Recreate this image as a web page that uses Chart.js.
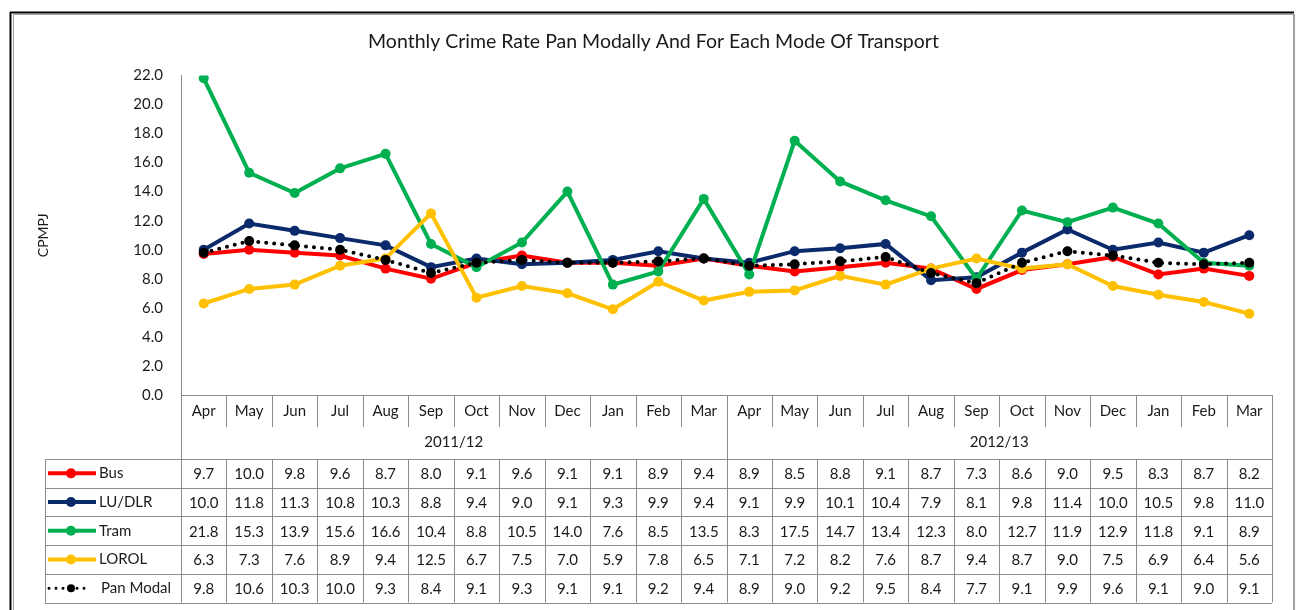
<!DOCTYPE html>
<html>
<head>
<meta charset="utf-8">
<script src="https://cdn.jsdelivr.net/npm/chart.js@4.4.1/dist/chart.umd.min.js"></script>
<style>
  body { margin: 0; background: #fff; }
  canvas { display: block; }
</style>
</head>
<body>
<canvas id="crimeChart" width="1296" height="610"></canvas>
<script>
const months = ['Apr','May','Jun','Jul','Aug','Sep','Oct','Nov','Dec','Jan','Feb','Mar',
                'Apr','May','Jun','Jul','Aug','Sep','Oct','Nov','Dec','Jan','Feb','Mar'];
const years = ['2011/12', '2012/13'];
const bus      = [9.7,10.0,9.8,9.6,8.7,8.0,9.1,9.6,9.1,9.1,8.9,9.4, 8.9,8.5,8.8,9.1,8.7,7.3,8.6,9.0,9.5,8.3,8.7,8.2];
const luDlr    = [10.0,11.8,11.3,10.8,10.3,8.8,9.4,9.0,9.1,9.3,9.9,9.4, 9.1,9.9,10.1,10.4,7.9,8.1,9.8,11.4,10.0,10.5,9.8,11.0];
const tram     = [21.8,15.3,13.9,15.6,16.6,10.4,8.8,10.5,14.0,7.6,8.5,13.5, 8.3,17.5,14.7,13.4,12.3,8.0,12.7,11.9,12.9,11.8,9.1,8.9];
const lorol    = [6.3,7.3,7.6,8.9,9.4,12.5,6.7,7.5,7.0,5.9,7.8,6.5, 7.1,7.2,8.2,7.6,8.7,9.4,8.7,9.0,7.5,6.9,6.4,5.6];
const panModal = [9.8,10.6,10.3,10.0,9.3,8.4,9.1,9.3,9.1,9.1,9.2,9.4, 8.9,9.0,9.2,9.5,8.4,7.7,9.1,9.9,9.6,9.1,9.0,9.1];
const yMin = 0, yMax = 22, yStep = 2;

const FONT = 'Lato, "Open Sans", sans-serif';
const TEXT = '#1a1a1a';
const GRID = '#8c8c8c';

const series = [
  { label: 'Bus',       data: bus,      color: '#ff0000', dotted: false },
  { label: 'LU/DLR',    data: luDlr,    color: '#0b2a6b', dotted: false },
  { label: 'Tram',      data: tram,     color: '#00b050', dotted: false },
  { label: 'LOROL',     data: lorol,    color: '#ffc000', dotted: false },
  { label: 'Pan Modal', data: panModal, color: '#000000', dotted: true }
];

function line(ctx, x1, y1, x2, y2) {
  ctx.beginPath();
  ctx.moveTo(x1, y1);
  ctx.lineTo(x2, y2);
  ctx.stroke();
}
const px = v => Math.round(v) + 0.5;

// outer frame like the Excel screenshot
const framePlugin = {
  id: 'frame',
  afterDraw(chart) {
    const ctx = chart.ctx;
    ctx.save();
    ctx.strokeStyle = '#000';
    ctx.lineWidth = 2;
    line(ctx, 10, 12.5, 1294, 12.5);
    line(ctx, 10.5, 12, 10.5, 610);
    ctx.strokeStyle = '#a0a0a0';
    ctx.lineWidth = 1;
    line(ctx, 13.5, 14.5, 1293, 14.5);
    line(ctx, 13.5, 14.5, 13.5, 610);
    ctx.lineWidth = 2;
    line(ctx, 1294, 14, 1294, 610);
    ctx.restore();
  }
};

// data table under the plot, aligned with the category scale
const tablePlugin = {
  id: 'dataTable',
  afterDraw(chart) {
    const ctx = chart.ctx;
    const xs = chart.scales.x;
    const area = chart.chartArea;
    const n = months.length;
    const w = (area.right - area.left) / n;
    const top = area.bottom;
    const monthBottom = top + 32;
    const dataTop = top + 64;
    const rowH = 28.7;
    const dataBottom = dataTop + rowH * series.length;
    const keyLeft = 45;

    ctx.save();
    ctx.strokeStyle = GRID;
    ctx.lineWidth = 1;

    // month row separators
    for (let i = 0; i <= n; i++) {
      const x = px(area.left + i * w);
      if (i === 0 || i === n || i === 12) {
        line(ctx, x, top, x, dataBottom);
      } else {
        line(ctx, x, top, x, monthBottom);
        line(ctx, x, dataTop, x, dataBottom);
      }
    }
    // horizontal lines
    line(ctx, area.left, px(top), area.right, px(top));
    for (let r = 0; r <= series.length; r++) {
      const y = px(dataTop + r * rowH);
      line(ctx, keyLeft, y, area.right, y);
    }
    line(ctx, px(keyLeft), px(dataTop), px(keyLeft), px(dataBottom));

    ctx.fillStyle = TEXT;
    ctx.font = '15px ' + FONT;
    ctx.textAlign = 'center';
    ctx.textBaseline = 'middle';
    months.forEach((m, i) => ctx.fillText(m, xs.getPixelForValue(i), top + 16));
    years.forEach((yLabel, k) => {
      const cx = area.left + (k * 12 + 6) * w;
      ctx.fillText(yLabel, cx, monthBottom + 15);
    });

    series.forEach((s, r) => {
      const cy = dataTop + r * rowH + rowH / 2;
      s.data.forEach((v, i) => ctx.fillText(v.toFixed(1), xs.getPixelForValue(i), cy + 1));

      // legend key
      ctx.save();
      ctx.strokeStyle = s.color;
      ctx.fillStyle = s.color;
      ctx.lineWidth = s.dotted ? 3 : 4;
      if (s.dotted) {
        ctx.lineCap = 'round';
        ctx.setLineDash([0, 7]);
        line(ctx, 49, cy, 91, cy);
        ctx.setLineDash([]);
      } else {
        line(ctx, 48, cy, 96, cy);
      }
      ctx.beginPath();
      ctx.arc(71, cy, s.dotted ? 4 : 5, 0, Math.PI * 2);
      ctx.fill();
      ctx.restore();

      ctx.textAlign = 'left';
      ctx.fillText(s.label, s.dotted ? 101 : 99, cy);
      ctx.textAlign = 'center';
    });
    ctx.restore();
  }
};

const datasets = series.map((s, k) => ({
  label: s.label,
  data: s.data,
  borderColor: s.color,
  backgroundColor: s.color,
  borderWidth: 4,
  borderDash: s.dotted ? [0, 8] : [],
  borderCapStyle: s.dotted ? 'round' : 'butt',
  pointRadius: 5,
  pointBorderWidth: 0,
  pointHoverRadius: 5,
  tension: 0,
  order: series.length - k
}));

new Chart(document.getElementById('crimeChart'), {
  type: 'line',
  data: { labels: months, datasets: datasets },
  plugins: [tablePlugin, framePlugin],
  options: {
    responsive: false,
    animation: false,
    layout: { padding: { left: 35, right: 24, top: 0, bottom: 215 } },
    plugins: {
      legend: { display: false },
      tooltip: { enabled: false },
      title: {
        display: true,
        text: 'Monthly Crime Rate Pan Modally And For Each Mode Of Transport',
        color: TEXT,
        font: { family: FONT, size: 19.5, weight: 'normal' },
        padding: { top: 30, bottom: 22 }
      }
    },
    scales: {
      x: { type: 'category', offset: true, display: false },
      y: {
        min: yMin,
        max: yMax,
        grid: { display: false, drawTicks: false },
        border: { display: true, color: GRID, width: 1 },
        ticks: {
          stepSize: yStep,
          padding: 18,
          color: TEXT,
          font: { family: FONT, size: 15 },
          callback: v => v.toFixed(1)
        },
        title: {
          display: true,
          text: 'CPMPJ',
          color: TEXT,
          font: { family: FONT, size: 14 },
          padding: 0
        },
        afterFit: s => { s.width = 146; }
      }
    }
  }
});
</script>
</body>
</html>
